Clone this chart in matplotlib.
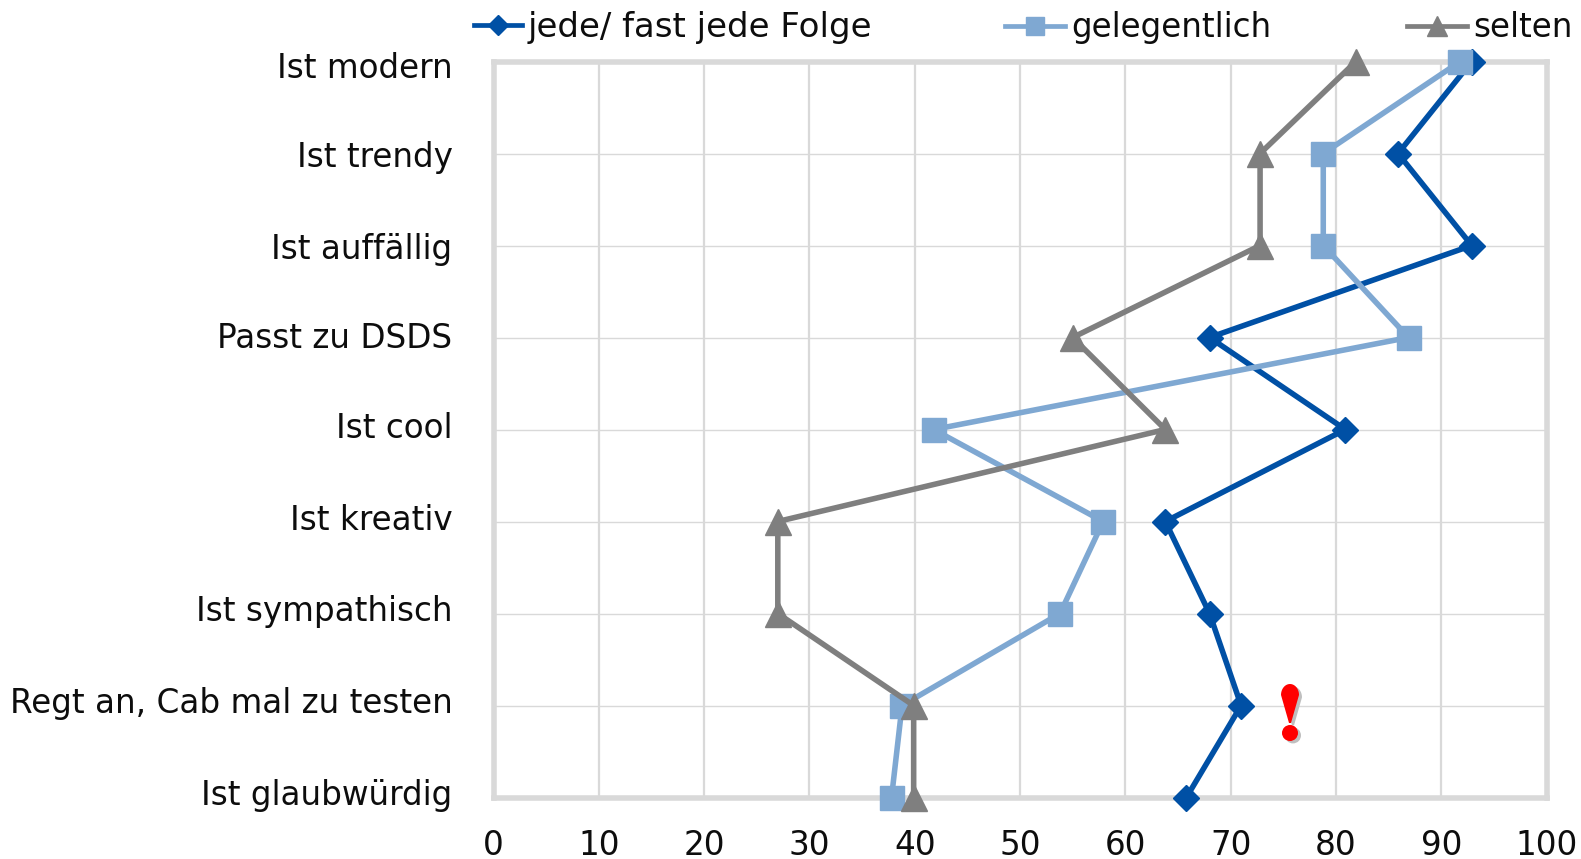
import matplotlib
matplotlib.use('Agg')
import matplotlib.pyplot as plt
from matplotlib.patches import Circle, Polygon
from matplotlib.transforms import Affine2D
import numpy as np

categories = ['Ist modern', 'Ist trendy', 'Ist auffällig', 'Passt zu DSDS', 'Ist cool',
              'Ist kreativ', 'Ist sympathisch', 'Regt an, Cab mal zu testen', 'Ist glaubwürdig']
jede = [92.9, 85.9, 92.9, 68, 80.9, 63.8, 68, 71, 65.8]
gelegentlich = [91.8, 78.8, 78.8, 86.9, 41.8, 57.9, 53.8, 38.8, 37.8]
selten = [81.9, 72.8, 72.8, 55, 63.8, 27, 27, 39.9, 39.9]
x_ticks = list(range(0, 101, 10))

W, H = 1581, 859
GRID = '#d9d9d9'
TEXT = '#0d0d0d'
FS = 23.5

fig = plt.figure(figsize=(W / 100, H / 100), dpi=100)
ax = fig.add_axes([493.5 / W, 1 - 797.5 / H, (1546.5 - 493.5) / W, (797.5 - 61.5) / H])

y = np.arange(len(categories))
ax.set_xlim(0, 100)
ax.set_ylim(len(categories) - 1, 0)

ax.set_axisbelow(True)
ax.xaxis.grid(True, color=GRID, lw=1.6)
ax.yaxis.grid(True, color=GRID, lw=1.0)
for s in ax.spines.values():
    s.set_color(GRID)
    s.set_linewidth(4)
    s.set_zorder(1.5)

l1, = ax.plot(jede, y, color='#0050a5', lw=4, marker='D', ms=13, clip_on=False, zorder=3, label='jede/ fast jede Folge')
l2, = ax.plot(gelegentlich, y, color='#7fa8d2', lw=4, marker='s', ms=16.8, clip_on=False, zorder=4, label='gelegentlich')
l3, = ax.plot(selten, y, color='#7f7f7f', lw=4, marker='^', ms=18.7, clip_on=False, zorder=5, label='selten')

ax.set_yticks(y, categories)
ax.set_xticks(x_ticks)
ax.tick_params(axis='both', length=0, labelsize=FS, colors=TEXT)
ax.tick_params(axis='x', pad=22.5)
ax.tick_params(axis='y', pad=29.5)

# the row labels do not sit exactly on the gridlines, nudge each one in pixels
for lab, dy in zip(ax.get_yticklabels(), [-3, -1, 0, 3, 5, 5, 6, 6, 6]):
    lab.set_transform(lab.get_transform() + Affine2D().translate(0, dy))

# one legend per entry, the handles are not the same length
for line, x0, hlen, fs in [(l1, 474, 1.4, 24.5), (l2, 1005, 1.85, FS), (l3, 1407, 1.85, FS)]:
    leg = fig.legend(handles=[line], loc='upper left', bbox_to_anchor=(x0 / W, 1 - 11 / H),
                     frameon=False, fontsize=fs, labelcolor=TEXT, borderpad=0, borderaxespad=0,
                     handlelength=hlen, handletextpad=0.18, markerscale=0.8)
    leg.legend_handles[0].set_linewidth(3.4)

# red exclamation mark next to the jede series, in pixel coordinates
to_px = Affine2D().scale(1, -1).translate(0, H)
for dx, col, z in [(3, '#bfbfbf', 6), (0, '#ff0000', 7)]:
    t = Affine2D().translate(dx, dx * 0.8) + to_px
    ang = np.linspace(np.pi, 2 * np.pi, 30)
    top = np.column_stack([1290 + 9 * np.cos(ang), 695 + 11 * np.sin(ang)])
    drop = np.vstack([[[1289, 723], [1281, 695]], top, [[1299, 695], [1291, 723]]])
    fig.add_artist(Polygon(drop, closed=True, fc=col, ec='none', transform=t, zorder=z))
    fig.add_artist(Circle((1290, 733), 8, fc=col, ec='none', transform=t, zorder=z))

fig.savefig('out.png', dpi=100)
